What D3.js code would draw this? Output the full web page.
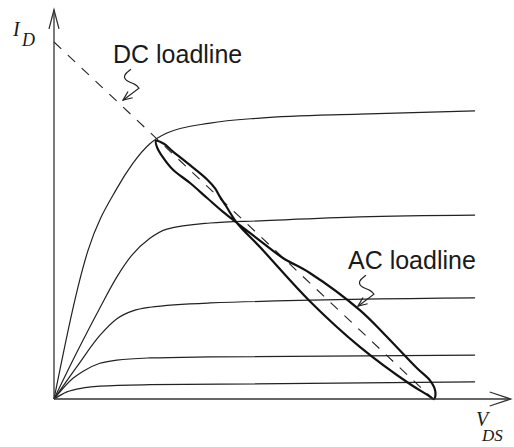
<!DOCTYPE html>
<html>
<head>
<meta charset="utf-8">
<script src="https://cdn.jsdelivr.net/npm/d3@7"></script>
<style>
  body { margin: 0; background: #fff; }
  svg { display: block; }
  .label { font-family: "Liberation Sans", Arial, sans-serif; font-size: 25px; fill: #1a1a1a; }
  .sym { font-family: "Liberation Serif", "Times New Roman", serif; font-style: italic; fill: #1a1a1a; }
</style>
</head>
<body>
<svg id="chart" width="514" height="447"></svg>
<script>
// Axis extents (V_DS, I_D in arbitrary units)
var vAxisEnd = 12.05;
var iAxisEnd = 10.9;

// Output characteristics, one per gate voltage
var curve1 = [[0, 0], [0.9, 4.17], [1.66, 5.9], [2.08, 6.6], [2.53, 7.15], [2.98, 7.45], [4.12, 7.73], [5.44, 7.87], [8.07, 7.98], [11.11, 8.07]];
var curve2 = [[0, 0], [0.6, 1.3], [1.21, 2.55], [1.66, 3.42], [2.05, 4.02], [2.53, 4.5], [2.98, 4.76], [4.12, 4.93], [5.44, 4.99], [8.07, 5.1], [11.11, 5.15]];
var curve3 = [[0, 0], [0.6, 0.9], [1.21, 1.78], [1.66, 2.25], [2.08, 2.47], [2.53, 2.57], [4.12, 2.69], [11.11, 2.83]];
var curve4 = [[0, 0], [0.5, 0.58], [0.77, 0.78], [1.21, 1.0], [1.66, 1.09], [2.53, 1.15], [4.12, 1.18], [11.11, 1.23]];
var curve5 = [[0, 0], [0.34, 0.2], [0.77, 0.31], [1.21, 0.36], [2.53, 0.4], [11.11, 0.48]];
var curves = [curve1, curve2, curve3, curve4, curve5];

// DC loadline end points
var dcLoadline = [[0, 10], [10, 0]];

// AC loadline loop (figure-eight traced around the DC loadline)
var acLoop = [
  [2.69, 7.23], [2.9, 7.15], [3.14, 6.93], [3.59, 6.55], [4.04, 6.15], [4.25, 5.9],
  [4.38, 5.66], [4.53, 5.42], [4.83, 4.93],
  [5.44, 4.25], [6.75, 2.74], [8.07, 1.46], [9.39, 0.42], [9.85, 0.12], [10.03, 0],
  [10.06, 0.22], [9.92, 0.52], [9.58, 0.86], [8.73, 1.8], [8.07, 2.49], [6.75, 3.53],
  [6.04, 3.95], [5.44, 4.43], [4.83, 4.93],
  [4.46, 5.24], [4.04, 5.63], [3.59, 6.05], [3.14, 6.42], [2.88, 6.76], [2.72, 7.05]
];

// Annotation text and the point each squiggle arrow points at
var notes = ['DC loadline', 'AC loadline'];
var noteTargets = [[1.82, 8.37], [8.02, 2.6]];

var svg = d3.select('#chart');

var xScale = d3.scaleLinear().domain([0, 10]).range([54, 433]);
var yScale = d3.scaleLinear().domain([0, 10]).range([399, 42]);

var lineGen = d3.line()
    .x(function(d) { return xScale(d[0]); })
    .y(function(d) { return yScale(d[1]); });

/* Axes with open arrowheads */
function drawAxes() {
    var g = svg.append('g')
        .style('stroke', '#333')
        .style('stroke-width', 1.3)
        .style('fill', 'none');

    g.append('path').attr('d', lineGen([[0, 0], [vAxisEnd, 0]]));
    g.append('path').attr('d', lineGen([[0, 0], [0, iAxisEnd]]));

    var xt = [xScale(vAxisEnd), yScale(0)];
    g.append('path')
        .attr('d', 'M' + (xt[0] - 21) + ',' + (xt[1] - 7) + 'L' + xt[0] + ',' + xt[1] + 'L' + (xt[0] - 21) + ',' + (xt[1] + 7));

    var yt = [xScale(0), yScale(iAxisEnd)];
    g.append('path')
        .attr('d', 'M' + (yt[0] - 5) + ',' + (yt[1] + 19) + 'L' + yt[0] + ',' + yt[1] + 'L' + (yt[0] + 5) + ',' + (yt[1] + 19));

    // axis symbols
    var iLabel = svg.append('text').attr('class', 'sym').attr('x', 13).attr('y', 36).style('font-size', '20px');
    iLabel.append('tspan').text('I');
    iLabel.append('tspan').attr('x', 22).attr('y', 46).style('font-size', '18px').text('D');

    var vLabel = svg.append('text').attr('class', 'sym').attr('x', 476).attr('y', 426).style('font-size', '20px');
    vLabel.append('tspan').text('V');
    vLabel.append('tspan').attr('x', 482).attr('y', 441).style('font-size', '17px').text('DS');
}

function drawCurves() {
    svg.append('g')
        .selectAll('path')
        .data(curves)
        .join('path')
        .style('fill', 'none')
        .style('stroke', '#222')
        .style('stroke-width', 1.2)
        .attr('d', d3.line()
            .x(function(d) { return xScale(d[0]); })
            .y(function(d) { return yScale(d[1]); })
            .curve(d3.curveMonotoneX));
}

function drawLoadlines() {
    svg.append('path')
        .attr('d', lineGen(dcLoadline))
        .style('fill', 'none')
        .style('stroke', '#222')
        .style('stroke-width', 1.1)
        .style('stroke-dasharray', '10,9');

    svg.append('path')
        .attr('d', d3.line()
            .x(function(d) { return xScale(d[0]); })
            .y(function(d) { return yScale(d[1]); })
            .curve(d3.curveCatmullRomClosed.alpha(0.5))(acLoop))
        .style('fill', 'none')
        .style('stroke', '#111')
        .style('stroke-width', 2.2);
}

/* Label with a hand-drawn squiggle arrow under it */
function drawNotes() {
    notes.forEach(function(txt, i) {
        var tx = xScale(noteTargets[i][0]);
        var ty = yScale(noteTargets[i][1]);

        // squiggle relative to the arrow tip
        var sq = [[8, -31], [0, -25], [3, -19], [13, -16], [16, -12]];
        var pts = sq.map(function(p) { return [tx + p[0], ty + p[1]]; });
        svg.append('path')
            .attr('d', d3.line().curve(d3.curveBasis)(pts) + 'L' + tx + ',' + ty)
            .style('fill', 'none')
            .style('stroke', '#222')
            .style('stroke-width', 1.2);

        // open arrowhead
        var ang = Math.atan2(-12, 16);
        var len = 10;
        var a1 = ang - 0.4, a2 = ang + 0.4;
        svg.append('path')
            .attr('d', 'M' + (tx + len * Math.cos(a1)) + ',' + (ty + len * Math.sin(a1)) +
                'L' + tx + ',' + ty +
                'L' + (tx + len * Math.cos(a2)) + ',' + (ty + len * Math.sin(a2)))
            .style('fill', 'none')
            .style('stroke', '#222')
            .style('stroke-width', 1.2);

        svg.append('text')
            .attr('class', 'label')
            .attr('x', tx - 10)
            .attr('y', ty - 37)
            .text(txt);
    });
}

drawCurves();
drawLoadlines();
drawAxes();
drawNotes();
</script>
</body>
</html>
